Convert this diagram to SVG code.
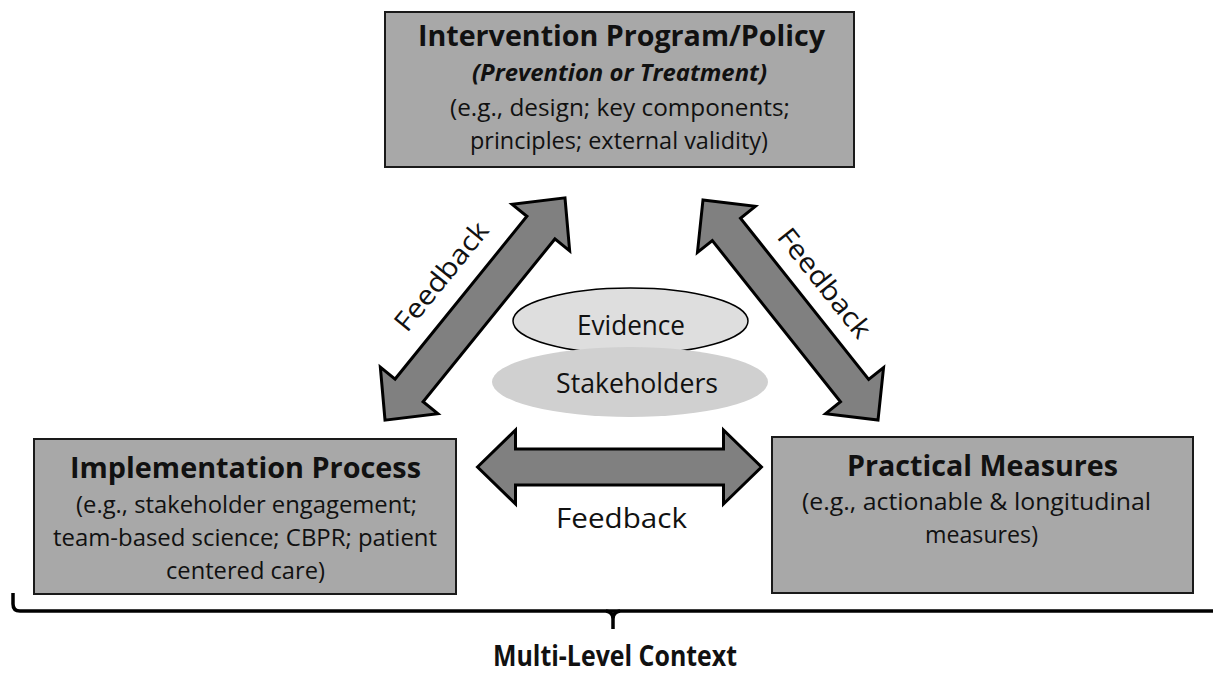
<svg xmlns="http://www.w3.org/2000/svg" width="1213" height="673" viewBox="0 0 1213 673">
<defs>
<style>
text{font-family:"Open Sans",Lato,"Liberation Sans",sans-serif;fill:#111;text-anchor:middle}
.box{fill:#a8a8a8;stroke:#1a1a1a;stroke-width:2}
.t{font-size:29px;font-weight:bold}
.s{font-size:23px;font-weight:bold;font-style:italic}
.b{font-size:24px}
.l{font-size:27px}
.arrow{fill:#808080;stroke:#000;stroke-width:3;stroke-linejoin:miter}
</style>
<path id="dbl" d="M -142 0 L -104 -37 L -104 -18 L 104 -18 L 104 -37 L 142 0 L 104 37 L 104 18 L -104 18 L -104 37 Z"/>
</defs>
<rect width="1213" height="673" fill="#fff"/>

<g id="connectors">
<use href="#dbl" class="arrow" transform="translate(475 309) rotate(-51) scale(1.007 1)"/>
<use href="#dbl" class="arrow" transform="translate(790.5 310) rotate(51.5) scale(0.99 1)"/>
<use href="#dbl" class="arrow" transform="translate(619.5 467)"/>
<text class="l" transform="translate(448.6 282.3) rotate(-51)" textLength="132" lengthAdjust="spacingAndGlyphs">Feedback</text>
<text class="l" transform="translate(817.1 288.8) rotate(51.5)" textLength="132" lengthAdjust="spacingAndGlyphs">Feedback</text>
<text class="l" x="621.5" y="528" textLength="131" lengthAdjust="spacingAndGlyphs">Feedback</text>
</g>

<g id="node-intervention">
<rect class="box" x="385" y="12" width="469" height="155"/>
<text class="t" x="621.5" y="46" textLength="407" lengthAdjust="spacingAndGlyphs">Intervention Program/Policy</text>
<text class="s" x="619.5" y="81" textLength="295" lengthAdjust="spacingAndGlyphs">(Prevention or Treatment)</text>
<text class="b" x="620" y="116" textLength="340" lengthAdjust="spacingAndGlyphs">(e.g., design; key components;</text>
<text class="b" x="619" y="149" textLength="298" lengthAdjust="spacingAndGlyphs">principles; external validity)</text>
</g>

<g id="node-evidence">
<ellipse cx="630.5" cy="321" rx="117.5" ry="33" fill="#dedede" stroke="#000" stroke-width="1.5"/>
<text class="l" x="631" y="335" textLength="108" lengthAdjust="spacingAndGlyphs">Evidence</text>
</g>

<g id="node-stakeholders">
<ellipse cx="630" cy="382" rx="138" ry="35" fill="#d0d0d0"/>
<text class="l" x="637" y="393" textLength="162" lengthAdjust="spacingAndGlyphs">Stakeholders</text>
</g>

<g id="node-implementation">
<rect class="box" x="34" y="439" width="422" height="155"/>
<text class="t" x="245.5" y="478" textLength="351" lengthAdjust="spacingAndGlyphs">Implementation Process</text>
<text class="b" x="246.5" y="513" textLength="341" lengthAdjust="spacingAndGlyphs">(e.g., stakeholder engagement;</text>
<text class="b" x="245" y="546" textLength="384" lengthAdjust="spacingAndGlyphs">team-based science; CBPR; patient</text>
<text class="b" x="245.5" y="579" textLength="159" lengthAdjust="spacingAndGlyphs">centered care)</text>
</g>

<g id="node-measures">
<rect class="box" x="772" y="437" width="421" height="156"/>
<text class="t" x="982.5" y="476" textLength="271" lengthAdjust="spacingAndGlyphs">Practical Measures</text>
<text class="b" x="976.5" y="510" textLength="349" lengthAdjust="spacingAndGlyphs">(e.g., actionable &amp; longitudinal</text>
<text class="b" x="981.5" y="543" textLength="113" lengthAdjust="spacingAndGlyphs">measures)</text>
</g>

<g id="context">
<path d="M 13 593 L 13 604 Q 13 611 20 611 L 1213 611" fill="none" stroke="#000" stroke-width="3.5"/>
<path d="M 606 611 Q 613 612 613 619 L 613 629 M 620 611 Q 613 612 613 619" fill="none" stroke="#000" stroke-width="3.5"/>
<text class="t" x="615" y="666" textLength="244" lengthAdjust="spacingAndGlyphs">Multi-Level Context</text>
</g>
</svg>
